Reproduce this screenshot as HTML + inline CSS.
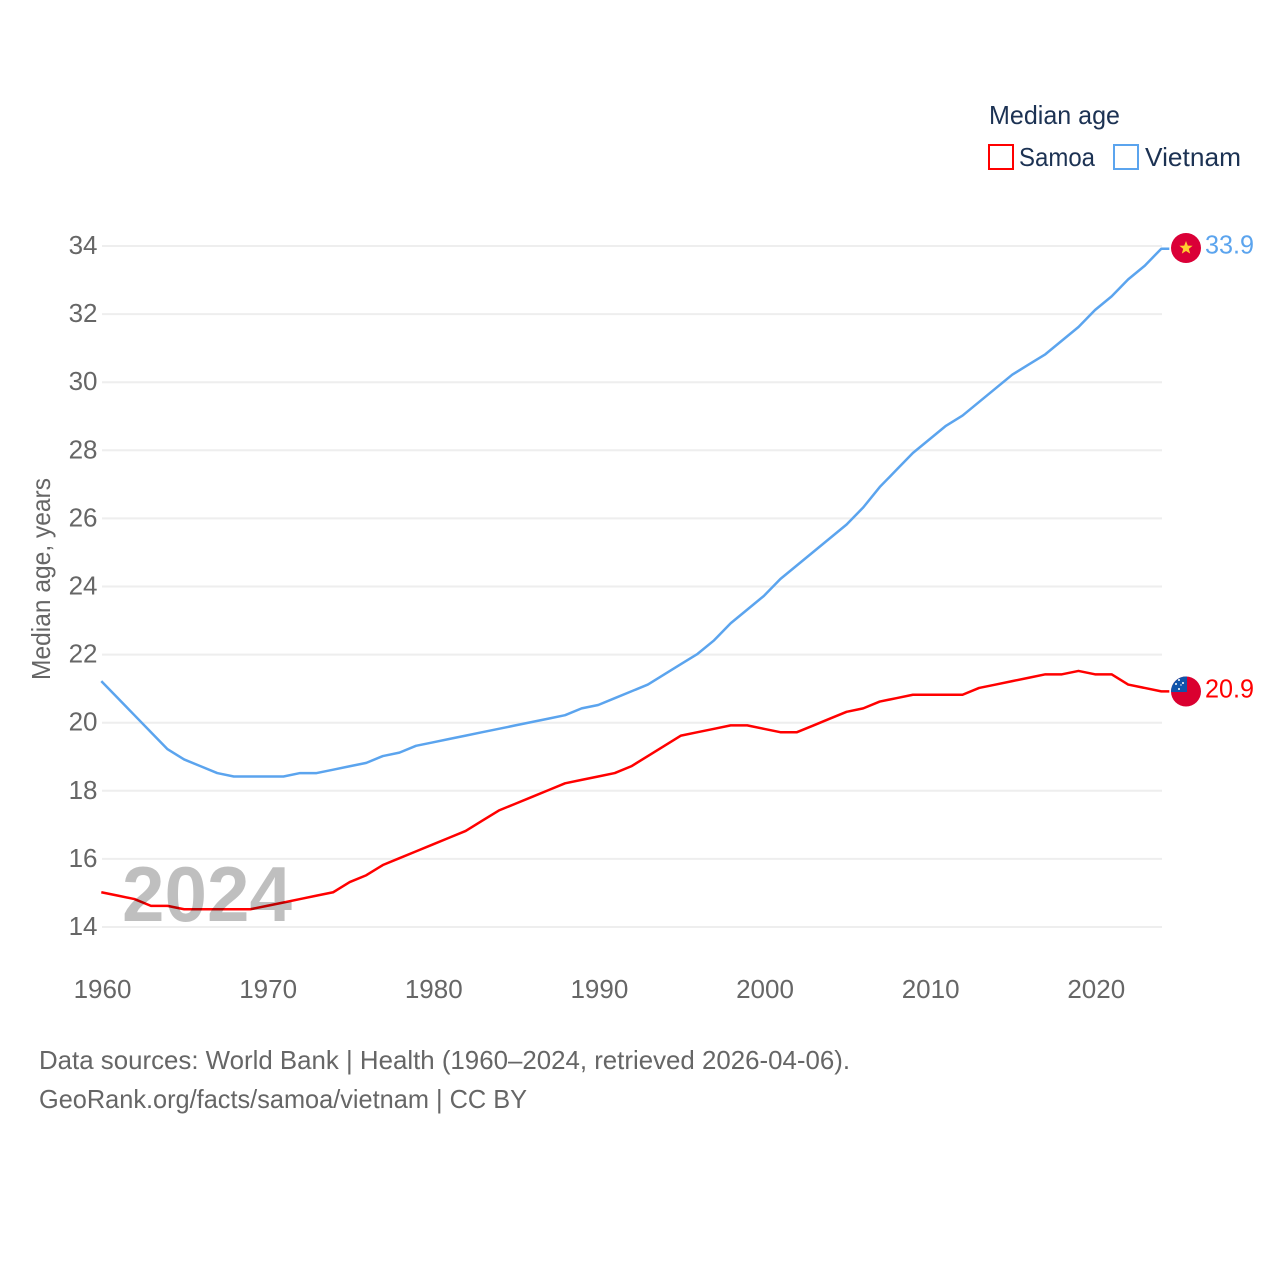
<!DOCTYPE html>
<html lang="en">
<head>
<meta charset="utf-8">
<title>Median age: Samoa and Vietnam</title>
<style>
html,body{margin:0;padding:0;background:#fff;width:1280px;height:1280px;overflow:hidden}
svg{display:block}
text{font-family:"Liberation Sans",sans-serif;font-size:26px;fill:#666}
.navy{fill:#1c3253}
</style>
</head>
<body>
<svg id="chart" width="1280" height="1280" viewBox="0 0 1280 1280" xmlns="http://www.w3.org/2000/svg">
  <defs>
    <clipPath id="flag-clip-vn"><circle cx="1186" cy="248" r="15"/></clipPath>
    <clipPath id="flag-clip-ws"><circle cx="1186" cy="691.5" r="15"/></clipPath>
  </defs>
  <g id="grid"></g>
  <g id="yticks"></g>
  <g id="xticks"></g>
  <text transform="translate(50,579) rotate(-90)" text-anchor="middle" textLength="202" lengthAdjust="spacingAndGlyphs">Median age, years</text>
  <g id="series" transform="translate(-0.7,-0.7)"></g>
  <text x="122" y="921" textLength="170" lengthAdjust="spacingAndGlyphs" style="font-size:78px;font-weight:bold;fill:#000;fill-opacity:.25">2024</text>

  <g>
    <text class="navy" x="989" y="124" textLength="131" lengthAdjust="spacingAndGlyphs">Median age</text>
    <rect x="989" y="145" width="24" height="24" fill="#fff" stroke="#ff0000" stroke-width="2"/>
    <text class="navy" x="1019" y="166" textLength="76" lengthAdjust="spacingAndGlyphs">Samoa</text>
    <rect x="1114" y="145" width="24" height="24" fill="#fff" stroke="#5ba4ee" stroke-width="2"/>
    <text class="navy" x="1145" y="166" textLength="96" lengthAdjust="spacingAndGlyphs">Vietnam</text>
  </g>

  <g clip-path="url(#flag-clip-vn)">
    <rect x="1171" y="233" width="30" height="30" fill="#da0037"/>
    <polygon fill="#ffcd30" points="1186,241 1187.8,245.6 1192.6,245.8 1188.8,248.9 1190.2,253.6 1186,251 1181.8,253.6 1183.2,248.9 1179.4,245.8 1184.2,245.6"/>
  </g>
  <g clip-path="url(#flag-clip-ws)">
    <rect x="1171" y="676" width="30" height="31" fill="#da0030"/>
    <rect x="1171" y="676" width="16" height="16" fill="#0f54ab"/>
    <circle cx="1179" cy="680" r="1" fill="#fff"/>
    <circle cx="1183" cy="683" r="1" fill="#fff"/>
    <circle cx="1176" cy="684" r="1" fill="#fff"/>
    <circle cx="1181" cy="685" r="0.7" fill="#fff"/>
    <circle cx="1179" cy="689" r="1" fill="#fff"/>
  </g>
  <text x="1205" y="253.500" textLength="49" lengthAdjust="spacingAndGlyphs" style="fill:#5ba4ee">33.9</text>
  <text x="1205" y="697.500" textLength="49" lengthAdjust="spacingAndGlyphs" style="fill:#ff0000">20.9</text>

  <text x="39" y="1069" textLength="811" lengthAdjust="spacingAndGlyphs">Data sources: World Bank | Health (1960–2024, retrieved 2026-04-06).</text>
  <a><text x="39" y="1108" textLength="488" lengthAdjust="spacingAndGlyphs">GeoRank.org/facts/samoa/vietnam | CC BY</text></a>
</svg>
<script>
const years = [1960,1961,1962,1963,1964,1965,1966,1967,1968,1969,1970,1971,1972,1973,1974,1975,1976,1977,1978,1979,1980,1981,1982,1983,1984,1985,1986,1987,1988,1989,1990,1991,1992,1993,1994,1995,1996,1997,1998,1999,2000,2001,2002,2003,2004,2005,2006,2007,2008,2009,2010,2011,2012,2013,2014,2015,2016,2017,2018,2019,2020,2021,2022,2023,2024];
const vietnamValues = [21.2,20.7,20.2,19.7,19.2,18.9,18.7,18.5,18.4,18.4,18.4,18.4,18.5,18.5,18.6,18.7,18.8,19.0,19.1,19.3,19.4,19.5,19.6,19.7,19.8,19.9,20.0,20.1,20.2,20.4,20.5,20.7,20.9,21.1,21.4,21.7,22.0,22.4,22.9,23.3,23.7,24.2,24.6,25.0,25.4,25.8,26.3,26.9,27.4,27.9,28.3,28.7,29.0,29.4,29.8,30.2,30.5,30.8,31.2,31.6,32.1,32.5,33.0,33.4,33.9];
const samoaValues = [15.0,14.9,14.8,14.6,14.6,14.5,14.5,14.5,14.5,14.5,14.6,14.7,14.8,14.9,15.0,15.3,15.5,15.8,16.0,16.2,16.4,16.6,16.8,17.1,17.4,17.6,17.8,18.0,18.2,18.3,18.4,18.5,18.7,19.0,19.3,19.6,19.7,19.8,19.9,19.9,19.8,19.7,19.7,19.9,20.1,20.3,20.4,20.6,20.7,20.8,20.8,20.8,20.8,21.0,21.1,21.2,21.3,21.4,21.4,21.5,21.4,21.4,21.1,21.0,20.9];
const yTickValues = [14,16,18,20,22,24,26,28,30,32,34];
const xTickValues = [1960,1970,1980,1990,2000,2010,2020];

const NS = 'http://www.w3.org/2000/svg';
function xScale(year){ return 102 + (year - 1960) * (1162 - 102) / (2024 - 1960); }
function yScale(v){ return 927 - (v - 14) * (927 - 246) / (34 - 14); }

const gridGroup = document.getElementById('grid');
const yGroup = document.getElementById('yticks');
const xGroup = document.getElementById('xticks');
const seriesGroup = document.getElementById('series');

yTickValues.forEach(function(v){
  const line = document.createElementNS(NS, 'line');
  
  
  line.setAttribute('x1', xScale(1960));
  line.setAttribute('x2', xScale(2024));
  line.setAttribute('y1', yScale(v));
  line.setAttribute('y2', yScale(v));
  line.setAttribute('stroke', '#eeeeee');
  line.setAttribute('stroke-width', '2');
  gridGroup.appendChild(line);

  const label = document.createElementNS(NS, 'text');
  
  
  label.setAttribute('x', 97.5);
  label.setAttribute('y', yScale(v) + 8);
  label.setAttribute('text-anchor', 'end');
  label.textContent = v;
  yGroup.appendChild(label);
});

xTickValues.forEach(function(year){
  const label = document.createElementNS(NS, 'text');
  
  
  label.setAttribute('x', xScale(year) + 0.5);
  label.setAttribute('y', 998);
  label.setAttribute('text-anchor', 'middle');
  label.textContent = year;
  xGroup.appendChild(label);
});

function drawSeries(values, color, seriesName){
  const pts = values.map(function(v, i){ return xScale(years[i]).toFixed(2) + ',' + yScale(v).toFixed(2); });
  const last = values[values.length - 1];
  pts.push((xScale(years[years.length - 1]) + 8).toFixed(2) + ',' + yScale(last).toFixed(2));
  const line = document.createElementNS(NS, 'polyline');
  
  
  line.setAttribute('points', pts.join(' '));
  line.setAttribute('fill', 'none');
  line.setAttribute('stroke', color);
  line.setAttribute('stroke-width', '2.5');
  line.setAttribute('stroke-linejoin', 'round');
  seriesGroup.appendChild(line);
}
drawSeries(vietnamValues, '#5ba4ee', 'line-vietnam');
drawSeries(samoaValues, '#ff0000', 'line-samoa');
</script>
</body>
</html>
